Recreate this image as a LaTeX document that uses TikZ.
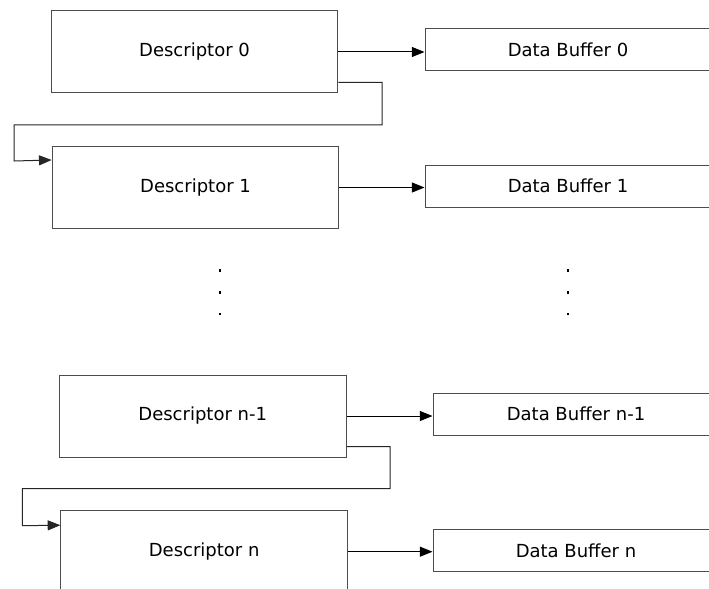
\documentclass[tikz,border=0pt]{standalone}
\usepackage{fontspec}
\setmainfont{DejaVu Sans}
\usepackage{tikz}
\usetikzlibrary{arrows.meta,calc}

\begin{document}
\begin{tikzpicture}[
  x=0.75pt, y=-0.75pt,
  font=\fontsize{13.5}{16}\selectfont,
  desc/.style={draw=black!70, line width=0.75pt, minimum width=215pt, minimum height=61.5pt, inner sep=0pt},
  buf/.style={draw=black!70, line width=0.75pt, minimum width=214.5pt, minimum height=31.5pt, inner sep=0pt},
  pf/.style={line width=0.75pt, -{Triangle[length=9.5pt, width=7.5pt]}},
  lnk/.style={draw=black!85, line width=0.75pt, -{Triangle[length=9.5pt, width=7.5pt]}}
]
\clip (0,0) rectangle (709,588);
% descriptors and their buffers
\node[desc] (d0) at (194.5,52) {Descriptor 0};
\node[desc] (d1) at (195.5,187.5) {Descriptor 1};
\node[desc] (dn1) at (202.7,416) {Descriptor n-1};
\node[desc] (dn) at (204.2,551.7) {Descriptor n};
\node[buf] (b0) at (568,50) {Data Buffer 0};
\node[buf] (b1) at (568,186) {Data Buffer 1};
\node[buf] (bn1) at (576,414) {Data Buffer n-1};
\node[buf] (bn) at (576,550.5) {Data Buffer n};
\draw[pf] (d0.east) -- (d0.east -| b0.west);
\draw[pf] (d1.east) -- (d1.east -| b1.west);
\draw[pf] (dn1.east) -- (dn1.east -| bn1.west);
\draw[pf] (dn.east) -- (dn.east -| bn.west);
% next-descriptor links
\draw[lnk] ($(d0.south east)+(0,-11)$) -| (382,125) -| (14,161) -- ($(d1.north west)+(0,14)$);
\draw[lnk] ($(dn1.south east)+(0,-11)$) -| (390,488.7) -| (22.3,525.7) -- ($(dn.north west)+(0,15)$);
% ellipsis
\foreach \x in {219.7,567.7}
  \foreach \y in {270.7,292.3,314}
    \fill (\x-1,\y-1.3) rectangle (\x+1,\y+1.3);
\end{tikzpicture}
\end{document}
